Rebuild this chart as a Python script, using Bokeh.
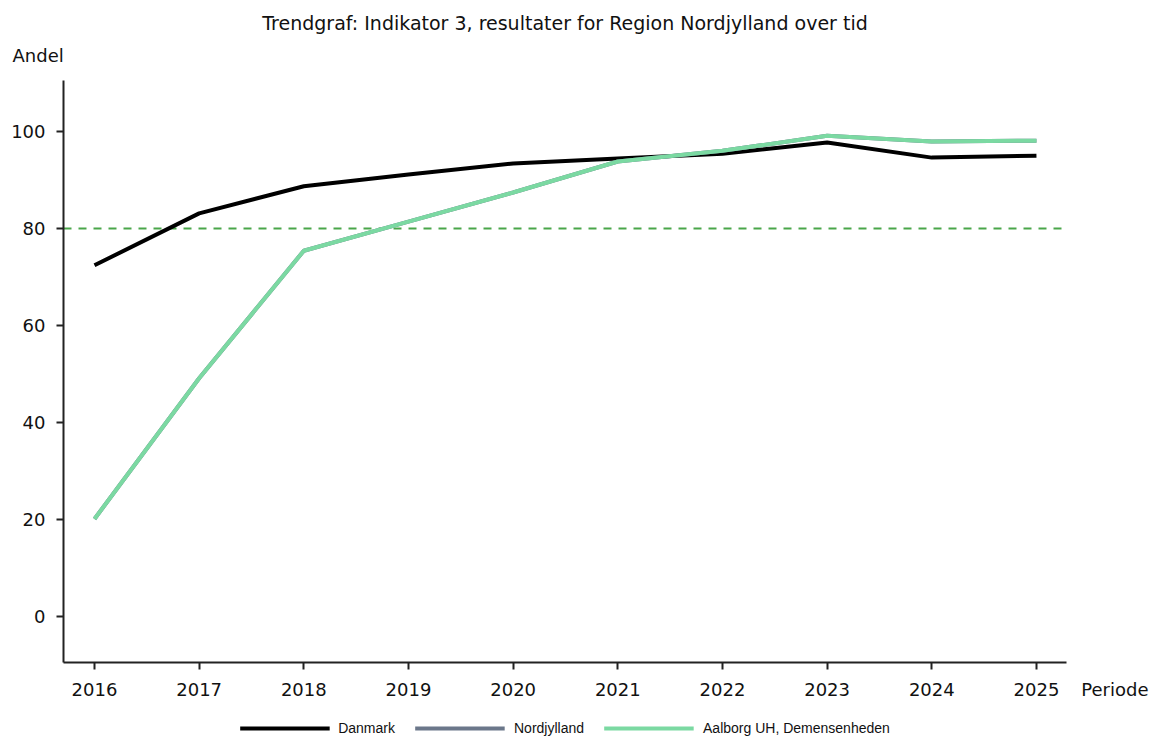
from bokeh.plotting import figure
from bokeh.layouts import column
from bokeh.models import Legend, LegendItem, Title, FixedTicker, Range1d
from bokeh.embed import file_html
from bokeh.resources import INLINE

years = [2016, 2017, 2018, 2019, 2020, 2021, 2022, 2023, 2024, 2025]
danmark = [72.4, 83.1, 88.7, 91.1, 93.4, 94.4, 95.4, 97.7, 94.6, 95.0]
nordjylland = [20.1, 49.1, 75.4, 81.4, 87.4, 93.8, 96.0, 99.1, 97.9, 98.1]
aalborg = [20.1, 49.1, 75.4, 81.4, 87.4, 93.8, 96.0, 99.1, 97.9, 98.1]
series_names = ["Danmark", "Nordjylland", "Aalborg UH, Demensenheden"]
series_colors = ["#000000", "#6b778a", "#7bd9a2"]
target = 80
y_ticks = [0, 20, 40, 60, 80, 100]
title_text = "Trendgraf: Indikator 3, resultater for Region Nordjylland over tid"
y_label = "Andel"
x_label = "Periode"

FONT = "DejaVu Sans"

p = figure(frame_width=1003, frame_height=582, output_backend="svg", toolbar_location=None,
           x_range=Range1d(2015.704, 2025.287), y_range=Range1d(-9.5, 110.5),
           min_border_left=63, min_border_top=80, min_border_right=90, min_border_bottom=58)
p.title = None
p.grid.visible = False
p.outline_line_color = None

for ax in (p.xaxis[0], p.yaxis[0]):
    ax.axis_line_width = 2
    ax.axis_line_color = "#222222"
    ax.major_tick_line_width = 2
    ax.major_tick_line_color = "#222222"
    ax.major_tick_out = 7
    ax.major_tick_in = 0
    ax.minor_tick_line_color = None
    ax.major_label_text_font = FONT
    ax.major_label_text_font_size = "18px"
    ax.major_label_text_color = "#111111"
p.xaxis.ticker = FixedTicker(ticks=years)
p.yaxis.ticker = FixedTicker(ticks=y_ticks)
p.xaxis.major_label_standoff = 13
p.yaxis.major_label_standoff = 11

p.line([p.x_range.start, p.x_range.end], [target, target], line_color="#4aa64a",
       line_dash="8 7", line_width=2)

all_series = [danmark, nordjylland, aalborg]
for vals, col in zip(all_series, series_colors):
    p.line(years, vals, line_color=col, line_width=4)

p.add_layout(Title(text=y_label, align="left", offset=-51, standoff=29,
                   text_font=FONT, text_font_size="18px", text_font_style="normal",
                   text_color="#111111"), "above")
p.add_layout(Title(text=title_text, align="center", standoff=-10,
                   text_font=FONT, text_font_size="19px", text_font_style="normal",
                   text_color="#111111"), "above")

p.add_layout(Title(text=x_label, align="right", offset=-82, standoff=-39, vertical_align="top",
                   text_font=FONT, text_font_size="18px", text_font_style="normal",
                   text_color="#111111"), "below")

# legend strip below the chart (series lines lie outside this strip's visible range)
lf = figure(frame_width=1003, frame_height=16, output_backend="svg", toolbar_location=None,
            x_range=Range1d(0, 1), y_range=Range1d(0, 1),
            x_axis_location=None, y_axis_location=None,
            min_border_left=63, min_border_right=90, min_border_top=0, min_border_bottom=0)
lf.grid.visible = False
lf.outline_line_color = None
items = []
for name, vals, col in zip(series_names, all_series, series_colors):
    r = lf.line(years, vals, line_color=col, line_width=4)
    items.append(LegendItem(label=name, renderers=[r]))
legend = Legend(items=items, orientation="horizontal", location="center",
                border_line_color=None, background_fill_alpha=0,
                glyph_width=90, glyph_height=10, label_height=16, label_standoff=9, spacing=20,
                label_text_font="Liberation Sans", label_text_font_size="14px",
                label_text_color="#111111", padding=0, margin=0)
lf.add_layout(legend, "center")

layout = column(p, lf, spacing=0)
open("out.html", "w").write(file_html(layout, INLINE))
